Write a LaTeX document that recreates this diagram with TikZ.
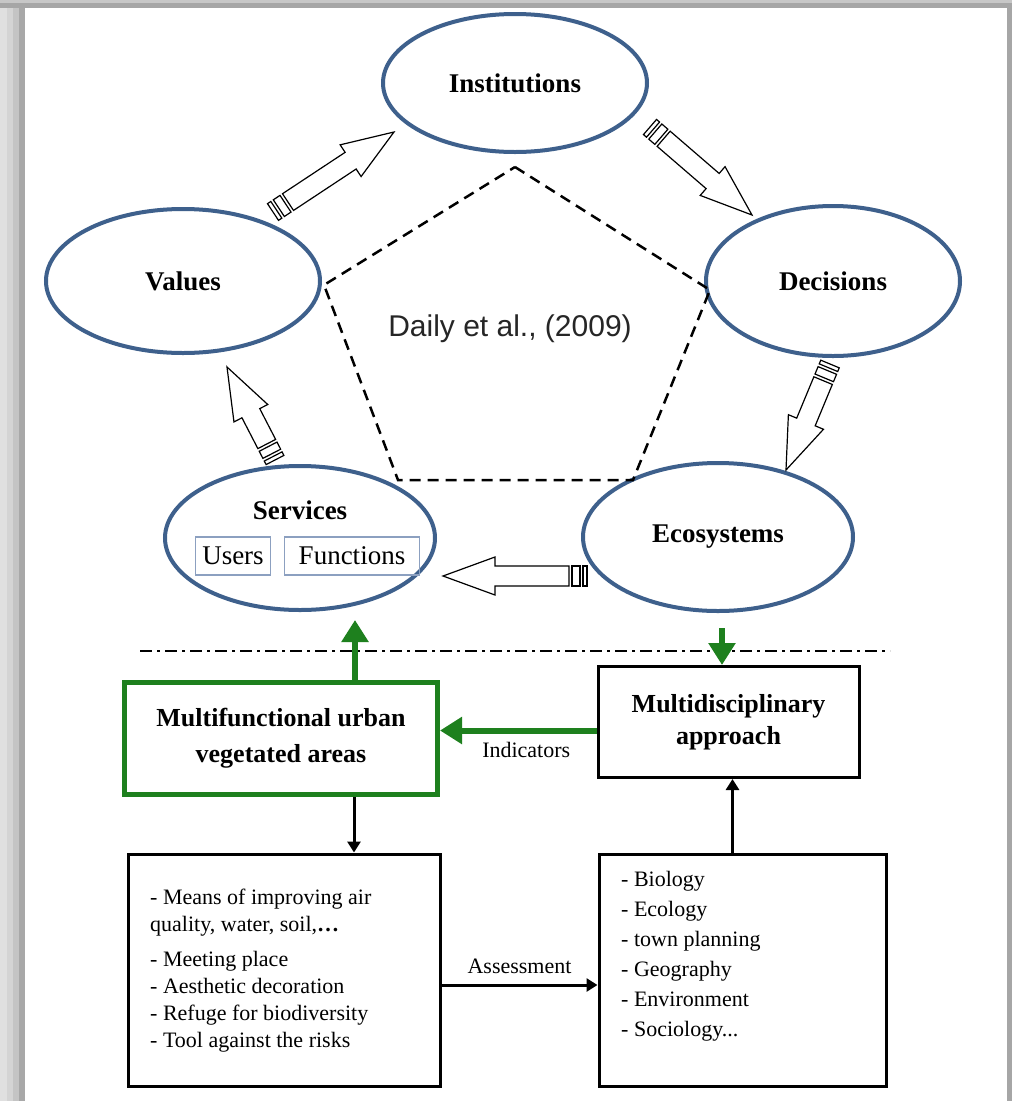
\documentclass[tikz,border=0pt]{standalone}
\usepackage{fontspec}
\setmainfont{Liberation Serif}
\newfontfamily\sansfont{Liberation Sans}
\usetikzlibrary{arrows.meta,shapes.geometric,calc}
\definecolor{ellblue}{RGB}{62,96,140}
\definecolor{subblue}{RGB}{140,160,192}
\definecolor{vgreen}{RGB}{30,128,30}
\tikzset{
  circ/.style={ellipse, draw=ellblue, line width=4pt, minimum width=268pt, minimum height=142pt,
    font=\fontsize{27}{30}\selectfont\bfseries},
  hollow/.style={draw=black, line width=1.2pt, fill=white, line join=miter},
  subbox/.style={draw=subblue, line width=1.2pt, minimum height=38pt, inner sep=0pt,
    font=\fontsize{27}{30}\selectfont},
  gbox/.style={draw=vgreen, line width=5pt, minimum width=313pt, minimum height=112pt, align=center,
    font=\fontsize{26}{36}\selectfont\bfseries},
  kbox/.style={draw=black, line width=3pt},
  garrow/.style={draw=vgreen, line width=6pt, -{Triangle[length=22pt,width=26pt]}},
  karrow/.style={draw=black, line width=3pt, -{Triangle[length=11pt,width=13pt]}},
  lbl/.style={font=\fontsize{22}{26}\selectfont},
  listtext/.style={align=left, inner sep=0pt, anchor=north west, font=\fontsize{22}{27}\selectfont}
}
% hollow block arrow with two bars at the tail: #1 tail, #2 tip
\newcommand{\hollowarrow}[2]{%
  \foreach \ua/\ub in {0/4,7/15}
    \draw[hollow] ($(#1)!\ua pt!(#2)!10pt!90:(#2)$) -- ($(#1)!\ub pt!(#2)!10pt!90:(#2)$)
      -- ($(#1)!\ub pt!(#2)!10pt!-90:(#2)$) -- ($(#1)!\ua pt!(#2)!10pt!-90:(#2)$) -- cycle;
  \draw[hollow] ($(#1)!18pt!(#2)!10pt!90:(#2)$) -- ($(#2)!52pt!(#1)!10pt!-90:(#1)$)
    -- ($(#2)!52pt!(#1)!19pt!-90:(#1)$) -- (#2) -- ($(#2)!52pt!(#1)!19pt!90:(#1)$)
    -- ($(#2)!52pt!(#1)!10pt!90:(#1)$) -- ($(#1)!18pt!(#2)!10pt!-90:(#2)$) -- cycle;
}
\begin{document}
\begin{tikzpicture}[x=1pt,y=-1pt]
% frame
\fill[black!35] (0,0) rectangle (1012,1101);
\fill[black!22] (0,0) rectangle (1012,3);
\fill[black!12] (0,8) rectangle (7,1101);
\fill[black!17] (7,8) rectangle (13,1101);
\fill[black!23] (13,8) rectangle (19,1101);
\fill[black!34] (19,8) rectangle (25,1101);
\fill[white] (25,8) rectangle (1007,1101);
\useasboundingbox (0,0) rectangle (1012,1101);

% upper cycle
\node[circ, minimum width=264pt, minimum height=138pt] (inst) at (515,83) {Institutions};
\node[circ, minimum width=274pt, minimum height=144pt] (val) at (183,281) {Values};
\node[circ, minimum width=254pt, minimum height=150pt] (dec) at (833,281) {Decisions};
\node[circ, minimum width=270pt, minimum height=144pt] (serv) at (300,538) {};
\node[circ, minimum width=270pt, minimum height=148pt] (eco) at (718,537) {Ecosystems};
\node[font=\fontsize{27}{30}\selectfont\bfseries] (servt) at (300,510) {Services};
\node[subbox, minimum width=75pt] (users) at (233,556) {Users};
\node[subbox, minimum width=135pt] (func) at (352,556) {Functions};

\coordinate (p1) at (515,167);
\coordinate (p2) at (710,290);
\coordinate (p3) at (633,480);
\coordinate (p4) at (398,480);
\coordinate (p5) at (324,285);
\draw[line width=2.5pt, dash pattern=on 11pt off 7pt] (p1) -- (p2) -- (p3) -- (p4) -- (p5) -- cycle;
\node[font=\sansfont\fontsize{30}{34}\selectfont, text=black!85] (daily) at (510,329) {Daily et al., (2009)};

\coordinate (vi1) at (273,212); \coordinate (vi2) at (394,132);
\coordinate (id1) at (650,127); \coordinate (id2) at (752,215);
\coordinate (de1) at (830,364); \coordinate (de2) at (786,470);
\coordinate (sv1) at (275,460); \coordinate (sv2) at (227,367);
\coordinate (es1) at (587,576); \coordinate (es2) at (443,576);
\hollowarrow{vi1}{vi2}
\hollowarrow{id1}{id2}
\hollowarrow{de1}{de2}
\hollowarrow{sv1}{sv2}
\hollowarrow{es1}{es2}

% separation
\coordinate (dl1) at (140,651);
\coordinate (dl2) at (890,651);
\draw[line width=2pt, dash pattern=on 12pt off 5pt on 3pt off 5pt] (dl1) -- (dl2);

% lower part
\node[gbox] (muva) at (281,738.5) {Multifunctional  urban\\vegetated areas};
\node[kbox, minimum width=261pt, minimum height=111pt, align=center,
  font=\fontsize{26}{32}\selectfont\bfseries] (mda) at (728.5,722) {Multidisciplinary\\approach};
\node[kbox, minimum width=312pt, minimum height=232pt] (means) at (284,970) {};
\node[kbox, minimum width=287pt, minimum height=232pt] (disc) at (742.5,970) {};

\node[listtext] (meanstext) at (150,889) {- Means of improving  air\\quality, water, soil,\textbf{\ldots}\\[8pt]
  - Meeting place\\- Aesthetic decoration\\- Refuge for biodiversity\\- Tool  against the risks};
\node[listtext, font=\fontsize{22}{30}\selectfont] (disctext) at (621,871) {- Biology\\- Ecology\\- town planning\\- Geography\\- Environment\\- Sociology...};

\coordinate (g1) at ([xshift=74pt]muva.north);
\draw[garrow] (g1) -- ++(0,-60);
\coordinate (g2) at ([shift={(4,15)}]eco.south);
\draw[garrow] (g2) -- (g2 |- mda.north);
\coordinate (ind) at ([yshift=-8.5pt]mda.west);
\draw[garrow] (ind) -- (ind -| muva.east) node[midway, below=5pt, xshift=8pt, lbl] {Indicators};

\coordinate (d1) at ([xshift=73pt]muva.south);
\draw[karrow] (d1) -- (d1 |- means.north);
\coordinate (u1) at ([xshift=4pt]mda.south);
\draw[karrow] (u1 |- disc.north) -- (u1);
\coordinate (as) at ([yshift=-15pt]means.east);
\draw[karrow] (as) -- (as -| disc.west) node[midway, above=6pt, lbl] {Assessment};
\end{tikzpicture}
\end{document}
